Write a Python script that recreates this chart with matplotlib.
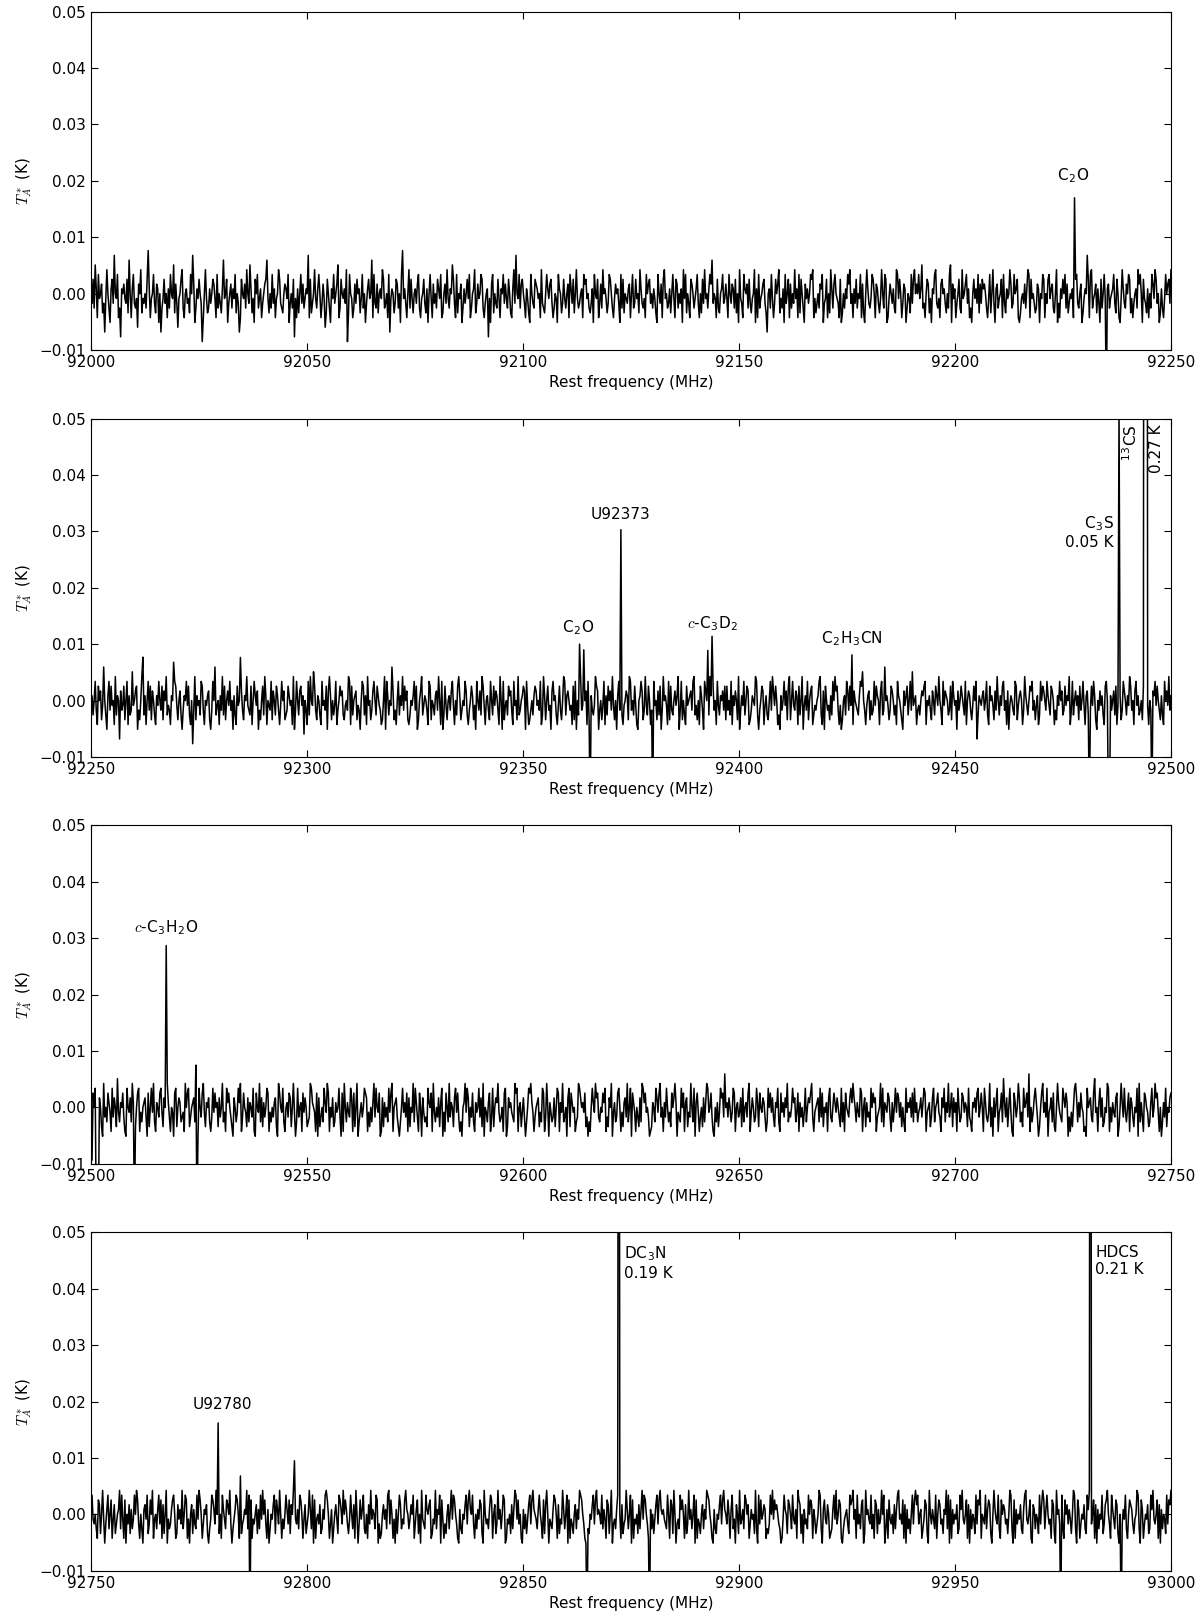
import numpy as np
import matplotlib.pyplot as plt

plt.rcParams['mathtext.fontset'] = 'cm'
plt.rcParams['font.size'] = 11

# baseline noise, one letter per channel:
# m = 0, each letter step = 0.85 mK
LEVELS = 'abcdefghijklmnopqrstuvwxy'
STEP = 0.85e-3

p1_range = (92000, 92250)
p1_noise = ("mkpjsnhqlmoikelrmjgnpkumlqhjdnmolkpitmhnqkjlfomrilkmjpvnhlmq"
            "kiongmejlpkmhnjqmlsiokflmprjhmnkliqmuogjnlpmkchmrlijnkmpolhq"
            "jmkintlmpgkmojnlqimkehpmlojrmksnilgpmqjlnhkmoptlimjqknhlmrpk"
            "jimonlqgkmjpdlhnimqkojlnmuhpikmrljnqmhkolfipmjgnlqkmoshjpmln"
            "krciqmlhjokpmnilqjmgknplmthqkjoimnlrpjkmhqelnmikpojmgqvlnkhm"
            "rjplimnkoqjhlmpkingmqlhokmjpnlqhimokrljnmspkhqimlogjnkmplqhj"
            "mnrikolmqpjhkmndlgoqimkjplhnmqkoljpmihnrkumlqjopmkhnligqmkjp"
            "onlmhrkjimqnlopkhjmlgqnmikpljmohqnkpimrljkmnhqoplmjikngqmlph"
            "kojrmnlikqpmjhlomnkgqjpimlknohmqjkplmirnkjlhqmopkmjnligqmkoh"
            "prlmjknimqlhpojmkngrlqimkhpomjlnqkhmipkrlmjnqotkmlhpjimnqklo"
            "lhqmkonjpimgrlkhqnmojpkilmrgnhqjlmopkiemnjqlhkpmoriljngqkmph"
            "ojmkrlnhqipmjgolnkmqprhlikmjonqgklphmirnjoqmlkhpgimjnlqorkmh"
            "nkpjmlqhoigmrnkjlqpmhonkilrmjqpghlomknjirqlpmhkongjmliqkprmo"
            "mqlnsjkhmpoilgnmqrkjlhopmnkimjqsgolnhkmpjirlmoqknhjgmplnkqio"
            "kpnomjhlqimrkgnojlmphqkinlmrojkqmnphgilmkojnrqhplmkijongmlqp"
            "hmkpqlnojimrgkhnlpmqjoikmlnhrpqkjmogilnmkphqrjlmoinkgpjmqlhn"
            "ojlmnqkipmhglrnkjomqpilhkmnjroqmgplkinhmjqolrpkmginjhlqmopkr")
p1_line_f = [92227.7, 92230.6, 92235.0]
p1_line_t = [0.017, 0.0068, -0.02]
p1_labels = [(r'C$_\mathregular{2}$O', 92227.3, 0.0192)]

p2_range = (92250, 92500)
p2_noise = ("lnjmqkhpmoiltmjgnqkplmhrjnmeoklpimqhnjkslmopgkimrljnhmqkpiom"
            "jhnlqmkpiomrjlkhnmuqplimojgknmqlpjhmdkrinlmjqpkhmlnoigkqmtjl"
            "mhnkrjpimolqkmgnjhplmvokinmrlkjphmqnlogkimpjrnhmlkqiomjpnkhl"
            "qmoijkpnlmhrgkqmjoplnfmkhqjrmlspkinmjhqlmkpgornimjlqhkmpnoji"
            "lmkrqhpjmnoilkgmqpjnhrlmikoqmjpnlkhimrgqnjmltoikhmqjnlrkpmoi"
            "hjmlnqkpgimorjlnmkhqpimljnokrmhqgjplimnkoqlhmjprnikmlqojhkmp"
            "nilgqmkojrplhmnkiqmjplonkhrmgqilmjpnokhqlmirjkmnpogqlhikmjnp"
            "olmkqhjrnimpklgoqmnjhlpkimrqjnomklhpiqgmjnrklpmohqimnkjlrpog"
            "kmilqhnjpmokrlimgnqkpjhlmonirqkmjplhgmnqoikrljpmhknqlmiojpgk"
            "rmnlhqipkjmolnrgkqimjhplmnokqrjlimhpnkgqomljrnipkmhqljnmokpi"
            "pkmjqhnlomirgknlqjmpohiknmlrqjgkmpohlnjimqkrolpmhjgnkmqloipr"
            "imqlkonhpjmrglnkqimophjlkmnqrjhogpmklinjqmropkhlgimnjqokplrh"
            "omlkjnqpsmkhlnoimjkqlpnmhoqjktmnlikpomjlhqnmkigolnpjmqkslmnh"
            "kljmonpqhmlnkiomjpnlrmkhqlonmjkpiqnlmgokmpnljqhmonkilpmqejnm"
            "lnokmqjhpmnliokrmjnlpqkmhoglnmkjqpilnomhkrnljmpoqkmilnhjqmpo"
            "mkqnljpomhkinlqmojkplnmrhkqjmolnipkmqlhnojmkplqnigmkolnjhpqm"
            "qlnkmojphlmnikqomjnlrpkmhoqlnjkmipoqnlhmkjonqlpmkinjhqmolrkn")
p2_line_f = [92262.0, 92363.1, 92364.2, 92365.6, 92372.7, 92380.0, 92392.8, 92393.8,
             92426.1, 92481.0, 92485.5, 92485.8, 92488.0, 92493.8, 92494.0, 92494.3,
             92495.6]
p2_line_t = [0.0077, 0.0100, 0.0090, -0.02, 0.0303, -0.02, 0.0089, 0.0114,
             0.0081, -0.02, -0.02, -0.02, 0.052, 0.27, 0.27, 0.27,
             -0.02]
p2_labels = [(r'C$_\mathregular{2}$O', 92362.7, 0.0113),
             ('U92373', 92372.5, 0.0317),
             (r'$c$-C$_\mathregular{3}$D$_\mathregular{2}$', 92393.8, 0.0120),
             (r'C$_\mathregular{2}$H$_\mathregular{3}$CN', 92426.2, 0.0093)]

p3_range = (92500, 92750)
p3_noise = ("mbpmqjlnomigrkmjpnlhqkomisljnmpkhgqmlojrnkimpqhljmnokgpimqlr"
            "jhnmkpqliomjrnkhmlgpqimonjklhrmpqikmnojlhgqmkprlinmojhkqlpmn"
            "iokmrjlhqnpmkigomjlqnrhkpmliojnmkqhgpmlrjoinkmqphljmknoigrpm"
            "lqjhmnkpoimrlgjqkmnhplomijkrqnmlhpgoikmjqnlrphmkoijnlmqkgphr"
            "mjnlkqohpimrgjlnkmqpohlimjnrkqmlpghoinkmjqlprhmnokigjmqlnkph"
            "oimlrjqnkhpmgoljkiqnmphrljmkoinqglhpmjrknmioqlpkhjgmnrlqoimk"
            "pjhnlmqkoirgmljnphkqimonrljkmhpqgiomnlkjrpqhmnilokgjmqprnlhk"
            "mnoiljqphkrmgnljkoimqphnlrjkmgoqipnlmhjkrqomnlpikgjhmqnlropk"
            "jmlpnqhkiomrglnjkpqmhlinokrjmqgpnlhmkiojrqnplmkghinmjqolprkm"
            "hnkqmjlipmornglkjqmphnoilkrmjqgnplhkmiojnrqlmpkhgmjnilqopktm"
            "nkomjlqphmnkloiqjmnkprhlomjkqnipmlonkhjqmplokinmqjhplnkomrjl"
            "kmqnojlphnkmilqjmonprkhlmnojqkpimlnhoqkjmpnlomkiqjnhpmlkoqnr"
            "omjnlkqphmoinkljqmpnohklmrjqinmlpokhnjmqlpoknimjhqlnmokpjqln"
            "jlmoknqphlmnikoqjmnplkhomqjnlrkmpiolnhqmjkpolnmiqkjhnmolpqkm"
            "pmhqnkjlrimgoknqhlmpjsnkoimqlhgpnkmrojliqmnpkthmjloqnkgimprl"
            "nkqglmojpihmrnlkjqompngkhlimqrojnkpmlhigqmnokjpslmhnqkoijmlr"
            "qhmjnlkopgimrnkqljmphonkimlqgrjnkhpomlijnqkmroplhmgjnkqimlop")
p3_line_f = [92501.2, 92501.5, 92501.8, 92510.0, 92517.3, 92524.3, 92524.6]
p3_line_t = [-0.02, -0.02, -0.02, -0.02, 0.0287, 0.0075, -0.02]
p3_labels = [(r'$c$-C$_\mathregular{3}$H$_\mathregular{2}$O', 92517.5, 0.0303)]

p4_range = (92750, 93000)
p4_noise = ("nqlkmjhpoimrlgknqjmphloikmnrjqlhpgmkoinjlqmrpkhmjgnolqikpmrh"
            "lmjnqkphoimrgljknpqmhiolnkrjmqphlgmoinkjqlrpmhknmoigjlqpnkrm"
            "kimhqnljpomrkgjlnqpmhuiklnmrjqgphlkmoinjqlrmpkhngjmloqipnkrm"
            "hljmqnkpiomrglknjqpmhloikmrnjqgphlmkoijnlqrpmhkngjmoliqpnkrm"
            "pnkilqmjohrmgkplnqjimhokrlnmjqpgkhimolnjqrkpmhlgnimqojlkprnm"
            "jlomqhknpimgrlkjqnmophilkrjnmqgplhkimojnrlqpmkhgnjimloqkprnm"
            "qkhmjnlpoigrmkljnqphmoikrlnjmqpghlkmiojnrqlpkmhgnjmiloqkprnm"
            "ljnqmkhpiormglkjnqpmhoilkrnjmqgphlkimojnlrqpmkhgnjimloqkprmn"
            "mkqjnlhpoimrgkljnqpmhoiklrnjmqgphlkmiojnrlqpmkhgnjmiloqkprnm"
            "nlkjqmhpoirmgkljqnpmhoikrlnjmqgphlkimojnlrqpmkhgnjimloqkprnm"
            "kpmhnqjlgomirklnjqpmohknlmirjgqkplmonhjikqmrlpnomkjghlqnmipo"
            "mjqlknhrpoimgnkljqmpohnlikmrqjgnplkomhijnqlrkmpohgjlmnkiqopr"
            "lnhqkmjopgirmnlkqjmhpoinklrmqgjnhplkmiojnqrlmkphognjlimqkpro"
            "qkmnhjlpoigrmknljqhmpoklinmrjqgphnkmloijqnrlkmphognjmliqkpor"
            "hmlkqjnpoigmrnlkqjhpmonklimrqjgphnkmlojinqrlkmphgonjmliqkorp"
            "jnqmklhpoigrmnklqjhpmoknlimrqjgpnhkmlojiqnrlkmphognjmlqikopr"
            "mkhqnljpoigmrknlqjhmponkilmrqjgpnhkmloijqnrlkmphognjmliqkpor")
p4_line_f = [92779.5, 92786.7, 92797.2, 92864.8, 92872.2, 92879.4,
             92974.4, 92981.3, 92988.5]
p4_line_t = [0.0162, -0.02, 0.0095, -0.02, 0.19, -0.02,
             -0.02, 0.21, -0.02]
p4_labels = [('U92780', 92780.4, 0.0181)]

# labels next to the lines that run off the top
p2_tall = [(r'C$_\mathregular{3}$S' + '\n0.05 K', 92486.8, 0.0330, 'right', 0),
           (r'$^\mathregular{13}$CS', 92490.7, 0.0490, 'center', 90),
           ('0.27 K', 92496.7, 0.0490, 'center', 90)]
p4_tall = [(r'DC$_\mathregular{3}$N' + '\n0.19 K', 92873.4, 0.0478, 'left', 0),
           ('HDCS\n0.21 K', 92982.5, 0.0478, 'left', 0)]


def make_spectrum(noise, frange, line_f, line_t):
    y = np.array([(LEVELS.index(c) - 12) * STEP for c in noise])
    freq = np.linspace(frange[0], frange[1], len(y))
    for f, t in zip(line_f, line_t):
        y[np.argmin(np.abs(freq - f))] = t
    return freq, y


panels = [
    (p1_noise, p1_range, p1_line_f, p1_line_t, p1_labels, []),
    (p2_noise, p2_range, p2_line_f, p2_line_t, p2_labels, p2_tall),
    (p3_noise, p3_range, p3_line_f, p3_line_t, p3_labels, []),
    (p4_noise, p4_range, p4_line_f, p4_line_t, p4_labels, p4_tall),
]
bottoms = [0.7843, 0.5336, 0.2829, 0.0322]

fig = plt.figure(figsize=(12, 16.23), dpi=100)

for (noise, frange, lf, lt, labels, tall), b in zip(panels, bottoms):
    ax = fig.add_axes([0.0758, b, 0.9, 0.2085])
    freq, y = make_spectrum(noise, frange, lf, lt)
    ax.plot(freq, y, color='black', lw=1.1)
    ax.set_xlim(frange)
    ax.set_ylim(-0.01, 0.05)
    ax.set_xticks(np.arange(frange[0], frange[1] + 1, 50))
    ax.set_yticks(np.arange(-0.01, 0.051, 0.01))
    ax.ticklabel_format(axis='x', useOffset=False)
    ax.tick_params(direction='in', top=True, right=True, length=5, width=0.8)
    ax.set_xlabel('Rest frequency (MHz)')
    ax.set_ylabel(r'$T_A^*$ (K)')
    for txt, x, yy in labels:
        ax.text(x, yy, txt, ha='center', va='bottom')
    for txt, x, yy, ha, rot in tall:
        ax.text(x, yy, txt, ha=ha, va='top', rotation=rot,
                multialignment=ha if rot == 0 else 'center')

fig.savefig('out.png', dpi=100)
